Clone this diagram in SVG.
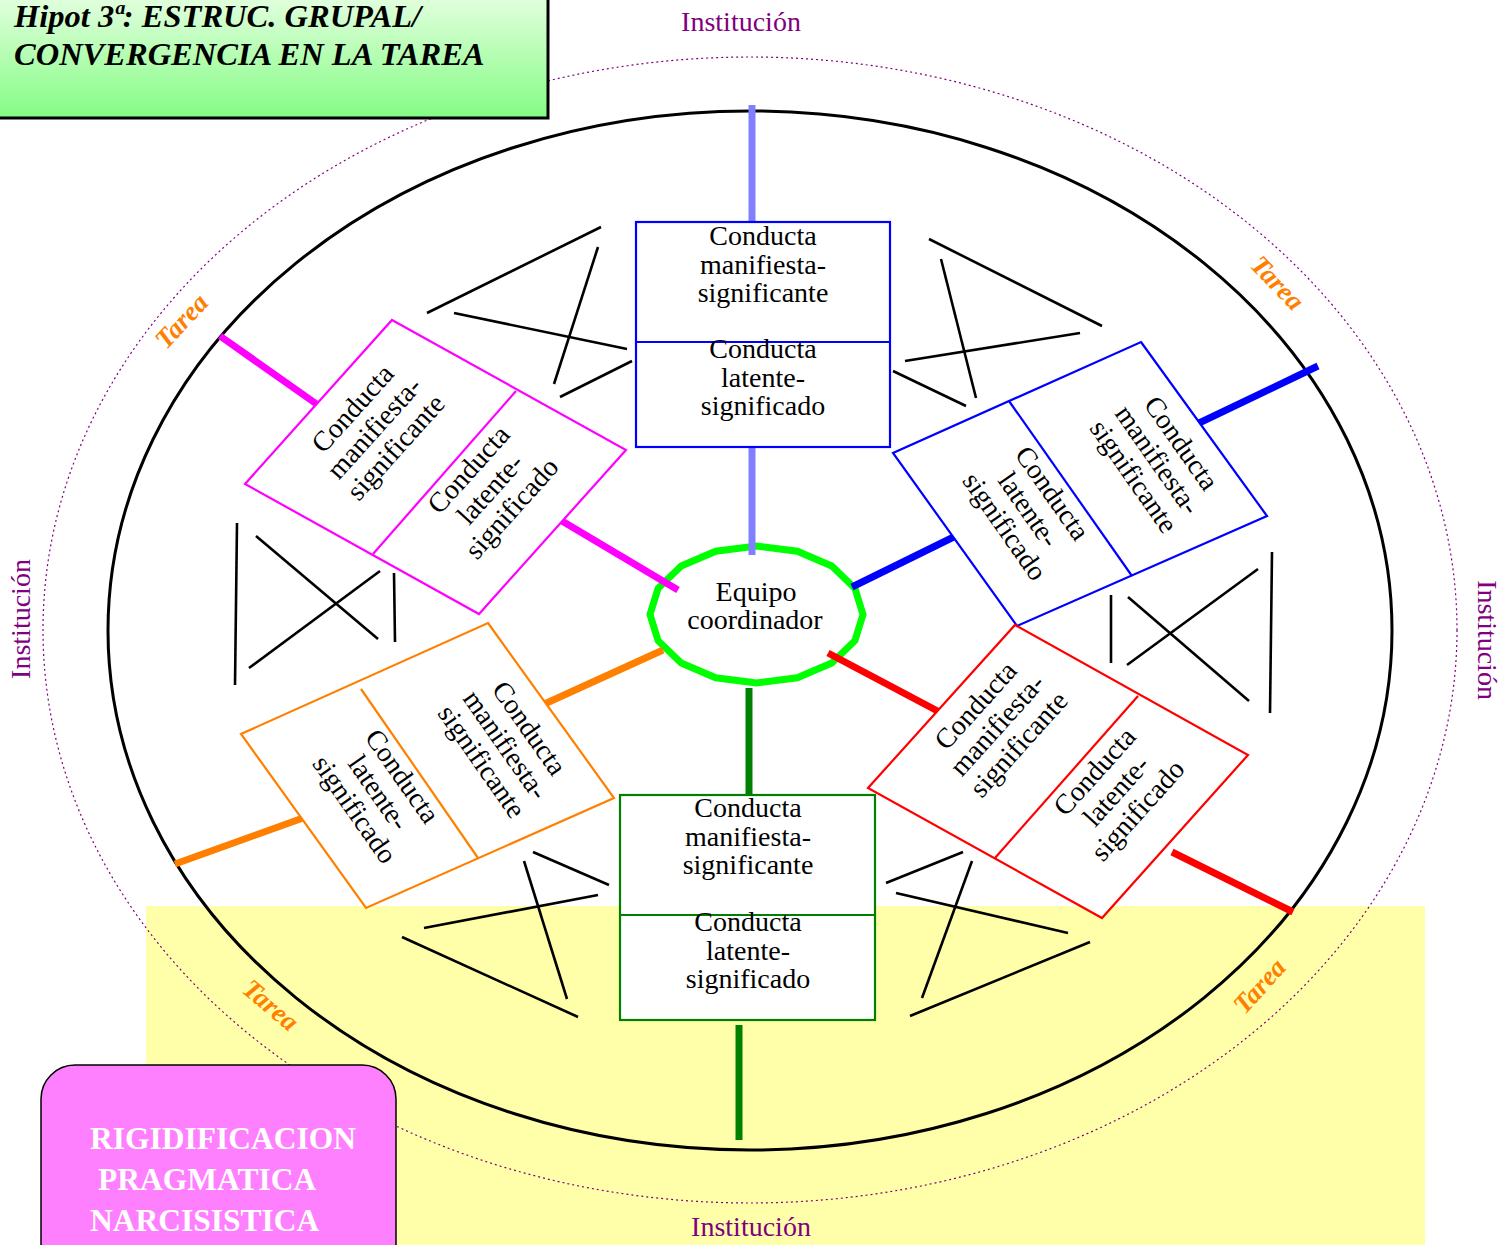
<svg xmlns="http://www.w3.org/2000/svg" width="1510" height="1245" viewBox="0 0 1510 1245">
<defs>
<linearGradient id="tg" x1="0" y1="0" x2="0" y2="1">
<stop offset="0" stop-color="#e4ffe0"/>
<stop offset="1" stop-color="#84fc84"/>
</linearGradient>
<style>
.bl{stroke:#000;stroke-width:2.6;fill:none}
.thk{stroke-width:7;fill:none}
.box{fill:#fff;stroke-width:2.2}
.t{font-family:"Liberation Serif","Times New Roman",serif;font-size:28px;fill:#000;text-anchor:middle}
.inst{font-family:"Liberation Serif","Times New Roman",serif;font-size:28px;fill:#800080;text-anchor:middle}
.tarea{font-family:"Liberation Serif","Times New Roman",serif;font-size:27px;font-weight:bold;font-style:italic;fill:#ff8000;text-anchor:middle}
.ttl{font-family:"Liberation Serif","Times New Roman",serif;font-size:32.5px;font-weight:bold;font-style:italic;fill:#000}
.rg{font-family:"Liberation Serif","Times New Roman",serif;font-size:31.5px;font-weight:bold;fill:#fff}
</style>
</defs>
<rect width="1510" height="1245" fill="#fff"/>
<rect x="146" y="906" width="1279" height="339" fill="#ffffaa"/>
<ellipse cx="750" cy="630" rx="707" ry="573" fill="none" stroke="#800080" stroke-width="1.2" stroke-dasharray="2 3"/>
<ellipse cx="750" cy="630.5" rx="642" ry="519.5" fill="none" stroke="#000" stroke-width="3"/>

<g id="equipo">
<polygon fill="#fff" stroke="#00ff00" stroke-width="7" points="863,614.5 854.9,640.7 831.8,663 797.3,677.8 756.5,683 715.7,677.8 681.2,663 658.1,640.7 650,614.5 658.1,588.3 681.2,566 715.7,551.2 756.5,546 797.3,551.2 831.8,566 854.9,588.3"/>
<text class="t" x="756" y="601">Equipo</text>
<text class="t" x="755" y="629">coordinador</text>
</g>

<g id="connectors">
<g id="crosses">
<line class="bl" x1="427" y1="313" x2="601" y2="227"/>
<line class="bl" x1="454" y1="313" x2="627" y2="349"/>
<line class="bl" x1="598" y1="247" x2="554" y2="384"/>
<line class="bl" x1="560" y1="397" x2="632" y2="361"/>
<line class="bl" x1="929" y1="239" x2="1102" y2="326"/>
<line class="bl" x1="941" y1="259" x2="976" y2="398"/>
<line class="bl" x1="905" y1="361" x2="1080" y2="333"/>
<line class="bl" x1="893" y1="371" x2="966" y2="406"/>
<line class="bl" x1="237" y1="523" x2="235" y2="685"/>
<line class="bl" x1="256" y1="536" x2="378" y2="639"/>
<line class="bl" x1="249" y1="668" x2="380" y2="571"/>
<line class="bl" x1="394" y1="573" x2="395" y2="642"/>
<line class="bl" x1="1272" y1="552" x2="1270" y2="713"/>
<line class="bl" x1="1111" y1="595" x2="1111" y2="663"/>
<line class="bl" x1="1128" y1="597" x2="1249" y2="701"/>
<line class="bl" x1="1127" y1="665" x2="1258" y2="569"/>
<line class="bl" x1="533" y1="852" x2="609" y2="885"/>
<line class="bl" x1="524" y1="861" x2="567" y2="999"/>
<line class="bl" x1="424" y1="928" x2="598" y2="895"/>
<line class="bl" x1="402" y1="937" x2="578" y2="1017"/>
<line class="bl" x1="886" y1="883" x2="963" y2="852"/>
<line class="bl" x1="972" y1="861" x2="922" y2="998"/>
<line class="bl" x1="896" y1="893" x2="1068" y2="933"/>
<line class="bl" x1="1090" y1="942" x2="910" y2="1016"/>
</g>
<g id="spokes">
<line class="thk" stroke="#8080ff" x1="752" y1="105" x2="752" y2="222"/>
<line class="thk" stroke="#8080ff" x1="752" y1="442" x2="752" y2="555"/>
<line class="thk" stroke="#ff00ff" x1="220" y1="336" x2="325" y2="410"/>
<line class="thk" stroke="#ff00ff" x1="562" y1="521" x2="678" y2="590"/>
<line class="thk" stroke="#0000ff" x1="1197" y1="424" x2="1318" y2="366"/>
<line class="thk" stroke="#0000ff" x1="852" y1="587" x2="972" y2="528"/>
<line class="thk" stroke="#ff8000" x1="175" y1="864" x2="303" y2="818"/>
<line class="thk" stroke="#ff8000" x1="540" y1="706" x2="663" y2="650"/>
<line class="thk" stroke="#ff0000" x1="828" y1="653" x2="947" y2="716"/>
<line class="thk" stroke="#ff0000" x1="1172" y1="852" x2="1293" y2="912"/>
<line class="thk" stroke="#008000" x1="749" y1="688" x2="749" y2="800"/>
<line class="thk" stroke="#008000" x1="739" y1="1025" x2="739" y2="1140"/>
</g>
</g>

<g id="box-top">
<rect class="box" stroke="#0000ff" x="636" y="222" width="254" height="225"/>
<line stroke="#0000ff" stroke-width="2.2" x1="636" y1="342" x2="890" y2="342"/>
<text class="t" x="763" y="245">Conducta</text>
<text class="t" x="763" y="273.5">manifiesta-</text>
<text class="t" x="763" y="302">significante</text>
<text class="t" x="763" y="358">Conducta</text>
<text class="t" x="763" y="386.5">latente-</text>
<text class="t" x="763" y="415">significado</text>
</g>

<g id="box-bottom">
<rect class="box" stroke="#008000" x="620" y="795" width="255" height="225"/>
<line stroke="#008000" stroke-width="2.2" x1="620" y1="915" x2="875" y2="915"/>
<text class="t" x="748" y="817">Conducta</text>
<text class="t" x="748" y="845.5">manifiesta-</text>
<text class="t" x="748" y="874">significante</text>
<text class="t" x="748" y="931">Conducta</text>
<text class="t" x="748" y="959.5">latente-</text>
<text class="t" x="748" y="988">significado</text>
</g>

<g id="box-pink">
<polygon class="box" stroke="#ff00ff" points="392,320 626,450 479,614 245,484"/>
<line stroke="#ff00ff" stroke-width="2.2" x1="516" y1="391" x2="373" y2="554"/>
<g transform="translate(381,434) rotate(-48)">
<text class="t" x="0" y="-29">Conducta</text>
<text class="t" x="0" y="0">manifiesta-</text>
<text class="t" x="0" y="29">significante</text>
</g>
<g transform="translate(497,495) rotate(-48)">
<text class="t" x="0" y="-29">Conducta</text>
<text class="t" x="0" y="0">latente-</text>
<text class="t" x="0" y="29">significado</text>
</g>
</g>

<g id="box-blue">
<polygon class="box" stroke="#0000ff" points="1141,342 1267,516 1017,626 893,453"/>
<line stroke="#0000ff" stroke-width="2.2" x1="1009" y1="401" x2="1132" y2="576"/>
<g transform="translate(1150,465) rotate(55)">
<text class="t" x="0" y="-29">Conducta</text>
<text class="t" x="0" y="0">manifiesta-</text>
<text class="t" x="0" y="29">significante</text>
</g>
<g transform="translate(1021,515) rotate(55)">
<text class="t" x="0" y="-29">Conducta</text>
<text class="t" x="0" y="0">latente-</text>
<text class="t" x="0" y="29">significado</text>
</g>
</g>

<g id="box-orange">
<polygon class="box" stroke="#ff8000" points="488,623 614,798 366,908 241,734"/>
<line stroke="#ff8000" stroke-width="2.2" x1="361" y1="689" x2="478" y2="858"/>
<g transform="translate(498,750) rotate(55)">
<text class="t" x="0" y="-29">Conducta</text>
<text class="t" x="0" y="0">manifiesta-</text>
<text class="t" x="0" y="29">significante</text>
</g>
<g transform="translate(371,798) rotate(55)">
<text class="t" x="0" y="-29">Conducta</text>
<text class="t" x="0" y="0">latente-</text>
<text class="t" x="0" y="29">significado</text>
</g>
</g>

<g id="box-red">
<polygon class="box" stroke="#ff0000" points="1015,625 1248,755 1102,918 868,788"/>
<line stroke="#ff0000" stroke-width="2.2" x1="1138" y1="696" x2="995" y2="858"/>
<g transform="translate(1004,731) rotate(-48)">
<text class="t" x="0" y="-29">Conducta</text>
<text class="t" x="0" y="0">manifiesta-</text>
<text class="t" x="0" y="29">significante</text>
</g>
<g transform="translate(1123,797) rotate(-48)">
<text class="t" x="0" y="-29">Conducta</text>
<text class="t" x="0" y="0">latente-</text>
<text class="t" x="0" y="29">significado</text>
</g>
</g>

<g id="labels">
<text class="inst" x="741" y="31">Institución</text>
<text class="inst" x="751" y="1236">Institución</text>
<text class="inst" transform="translate(30,619) rotate(-90)">Institución</text>
<text class="inst" transform="translate(1478,640) rotate(90)">Institución</text>
<text class="tarea" transform="translate(188,327) rotate(-47)">Tarea</text>
<text class="tarea" transform="translate(1271,289) rotate(46)">Tarea</text>
<text class="tarea" transform="translate(265,1012) rotate(40)">Tarea</text>
<text class="tarea" transform="translate(1266,992) rotate(-48)">Tarea</text>
</g>

<g id="title">
<rect x="-5" y="-5" width="553" height="123" fill="url(#tg)" stroke="#000" stroke-width="3"/>
<text class="ttl" x="14" y="27">Hipot 3ª: ESTRUC. GRUPAL/</text>
<text class="ttl" x="14" y="65">CONVERGENCIA EN LA TAREA</text>
</g>

<g id="rigid">
<rect x="41" y="1065" width="355" height="220" rx="34" ry="34" fill="#ff80ff" stroke="#000" stroke-width="1.5"/>
<text class="rg" x="90" y="1149">RIGIDIFICACION</text>
<text class="rg" x="98" y="1190">PRAGMATICA</text>
<text class="rg" x="90" y="1231">NARCISISTICA</text>
</g>
</svg>
